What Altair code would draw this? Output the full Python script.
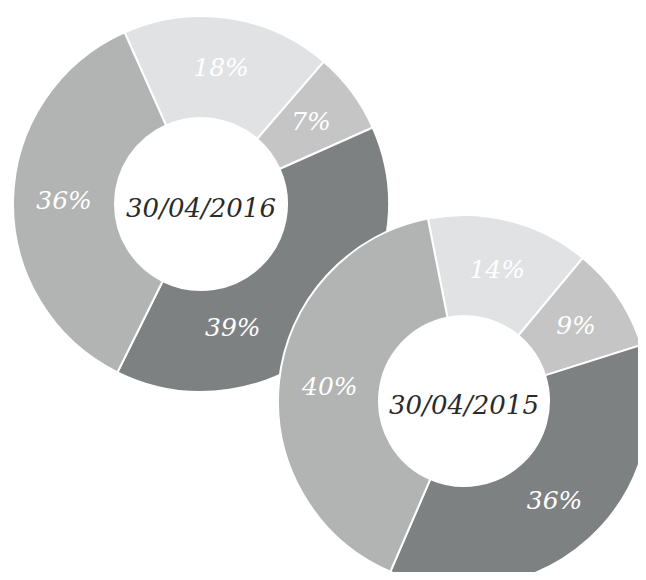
import math
import altair as alt
import pandas as pd

# ---- data -------------------------------------------------------------
segments = ["s1", "s2", "s3", "s4"]          # clockwise from the top
values_2016 = [18, 7, 39, 36]
values_2015 = [14, 9, 36, 40]
labels_2016 = ["18%", "7%", "39%", "36%"]
labels_2015 = ["14%", "9%", "36%", "40%"]
dates = ["30/04/2016", "30/04/2015"]
colors = ["#e1e2e3", "#c4c5c4", "#7e8182", "#b2b4b3"]

FONT = "Georgia, 'DejaVu Serif', serif"


def make_df(values, labels):
    return pd.DataFrame({
        "segment": segments,
        "value": values,
        "label": labels,
        "idx": list(range(len(values))),
    })


def donut(values, labels, date, cx, cy, r_out, r_in, start_deg, label_r,
          moved_idx=None, moved_dx=0, moved_dy=0):
    df = make_df(values, labels)
    start = math.radians(start_deg)
    theta = alt.Theta("value:Q", stack=True,
                      scale=alt.Scale(range=[start, start + 2 * math.pi]))
    order = alt.Order("idx:Q")
    base = alt.Chart(df)

    arcs = base.mark_arc(
        x=cx, y=cy, radius=r_out, radius2=r_in,
        stroke="white", strokeWidth=2, clip=True,
    ).encode(
        theta=theta,
        color=alt.Color("segment:N",
                        scale=alt.Scale(domain=segments, range=colors),
                        legend=None),
        order=order,
    )

    test = "datum.idx == %d" % (moved_idx if moved_idx is not None else -1)
    text = base.mark_text(
        x=cx, y=cy, radius=label_r, font=FONT, fontStyle="italic",
        fontSize=25, color="white", align="center", baseline="middle",
    ).encode(
        theta=theta,
        text="label:N",
        order=order,
        opacity=alt.condition(test, alt.value(0), alt.value(1)),
    )
    layers = [arcs, text]
    if moved_idx is not None:
        moved = base.mark_text(
            x=cx, y=cy, radius=label_r, font=FONT, fontStyle="italic",
            fontSize=25, color="white", align="center", baseline="middle",
            dx=moved_dx, dy=moved_dy,
        ).encode(
            theta=theta,
            text="label:N",
            order=order,
            opacity=alt.condition(test, alt.value(1), alt.value(0)),
        )
        layers.append(moved)

    center = alt.Chart(pd.DataFrame({"date": [date]})).mark_text(
        x=cx, y=cy + 5, font=FONT, fontStyle="italic", fontSize=26,
        color="#2a2a2a", align="center", baseline="middle",
    ).encode(text="date:N")
    layers.append(center)
    return alt.layer(*layers)


top = donut(values_2016, labels_2016, dates[0], 193, 196, 188, 86, -24, 137,
            moved_idx=2, moved_dx=-63, moved_dy=25)
bottom = donut(values_2015, labels_2015, dates[1], 456, 393, 186, 85, -11.2,
               135)

chart = alt.layer(top, bottom).resolve_scale(theta="independent").properties(
    width=630, height=564, padding=0,
    autosize=alt.AutoSizeParams(type="none"),
).configure_view(stroke=None)

chart.save("out.html", embed_options={"renderer": "svg", "actions": False})
